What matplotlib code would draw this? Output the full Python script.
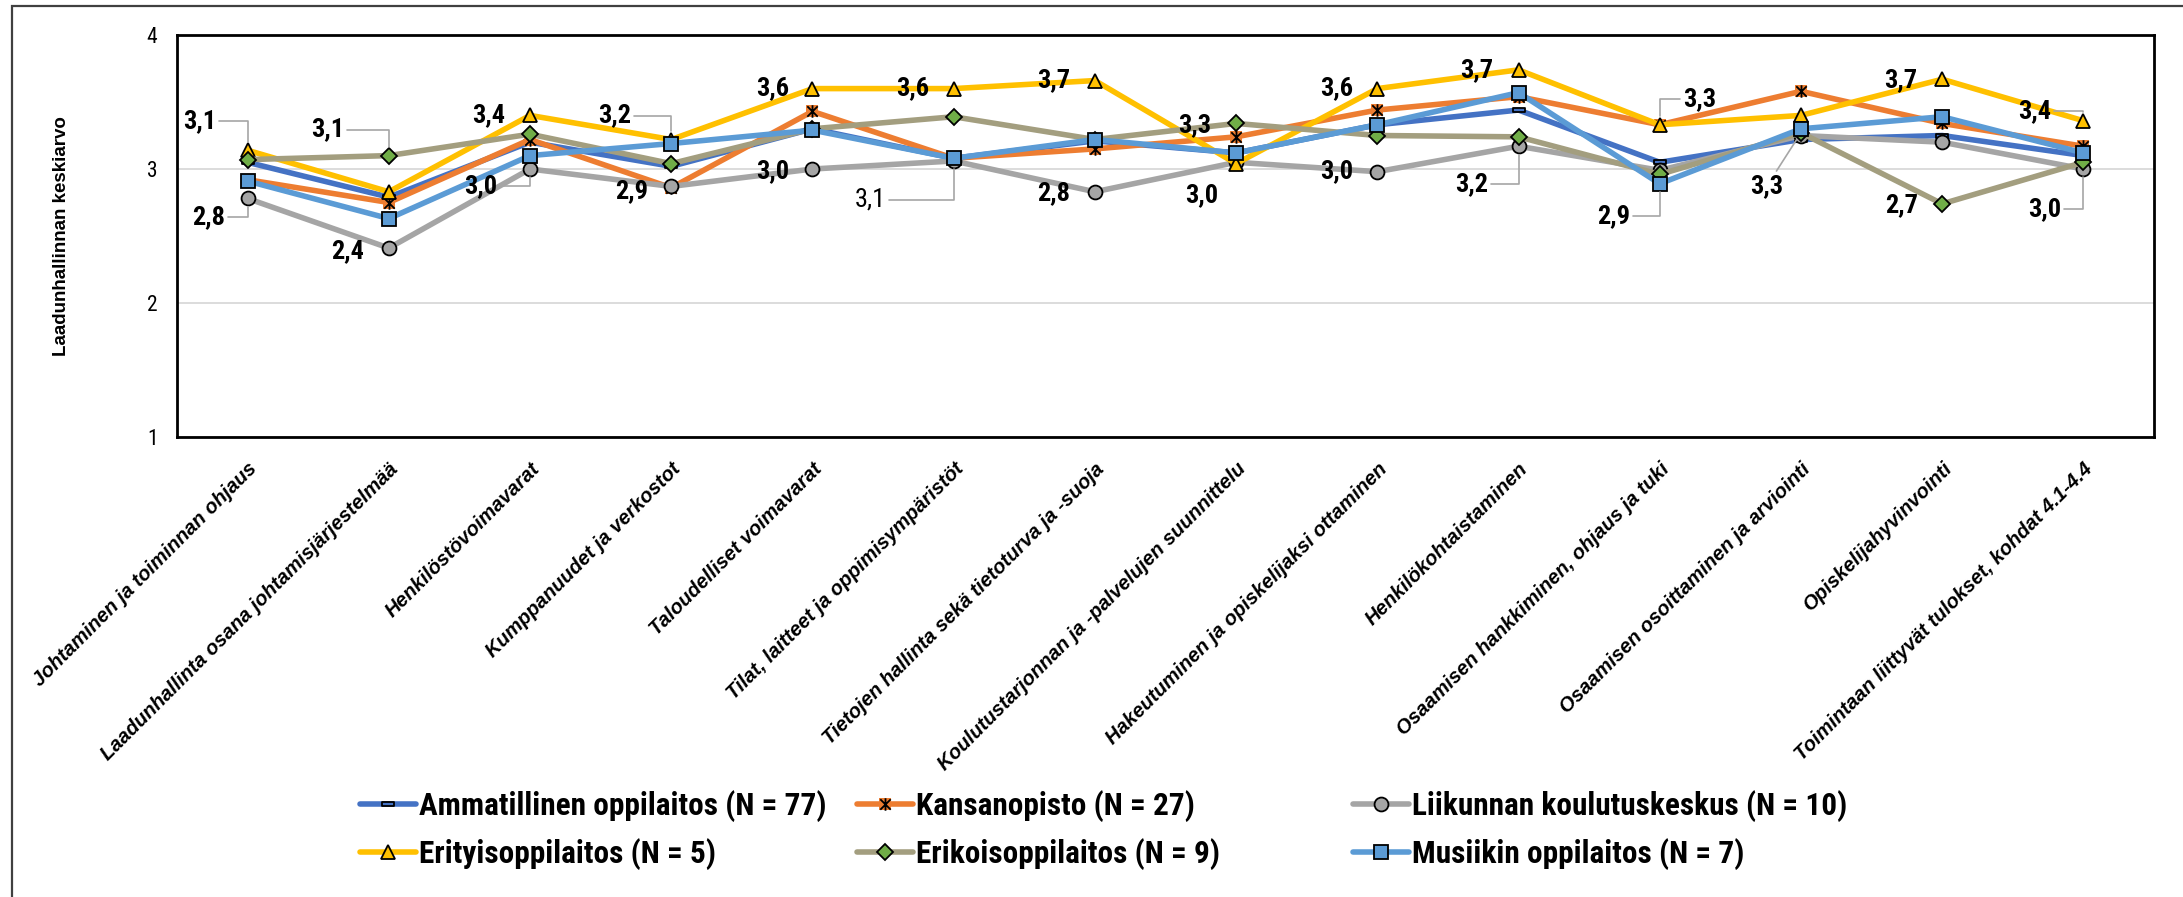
import matplotlib
matplotlib.use('Agg')
import matplotlib.pyplot as plt
import numpy as np
from matplotlib import font_manager
from matplotlib.path import Path
from matplotlib.patches import Rectangle


# DATA
categories = [
    'Johtaminen ja toiminnan ohjaus',
    'Laadunhallinta osana johtamisjärjestelmää',
    'Henkilöstövoimavarat',
    'Kumppanuudet ja verkostot',
    'Taloudelliset voimavarat',
    'Tilat, laitteet ja oppimisympäristöt',
    'Tietojen hallinta sekä tietoturva ja -suoja',
    'Koulutustarjonnan ja -palvelujen suunnittelu',
    'Hakeutuminen ja opiskelijaksi ottaminen',
    'Henkilökohtaistaminen',
    'Osaamisen hankkiminen, ohjaus ja tuki',
    'Osaamisen osoittaminen ja arviointi',
    'Opiskelijahyvinvointi',
    'Toimintaan liittyvät tulokset, kohdat 4.1-4.4',
]
series_names = [
    'Ammatillinen oppilaitos (N = 77)',
    'Kansanopisto (N = 27)',
    'Liikunnan koulutuskeskus (N = 10)',
    'Erityisoppilaitos (N = 5)',
    'Erikoisoppilaitos (N = 9)',
    'Musiikin oppilaitos (N = 7)',
]
ammatillinen = [3.05, 2.79, 3.20, 3.02, 3.30, 3.08, 3.21, 3.12, 3.33, 3.44, 3.05, 3.22, 3.25, 3.10]
kansanopisto = [2.92, 2.75, 3.22, 2.86, 3.43, 3.08, 3.15, 3.24, 3.44, 3.54, 3.33, 3.58, 3.34, 3.17]
liikunta = [2.78, 2.41, 3.00, 2.87, 3.00, 3.06, 2.83, 3.05, 2.98, 3.17, 2.99, 3.25, 3.20, 3.00]
erityis = [3.14, 2.83, 3.40, 3.22, 3.60, 3.60, 3.66, 3.04, 3.60, 3.74, 3.33, 3.40, 3.67, 3.36]
erikois = [3.07, 3.10, 3.26, 3.04, 3.30, 3.39, 3.22, 3.34, 3.25, 3.24, 2.96, 3.27, 2.74, 3.05]
musiikki = [2.91, 2.63, 3.10, 3.19, 3.29, 3.08, 3.22, 3.12, 3.33, 3.57, 2.89, 3.30, 3.39, 3.12]
values = [ammatillinen, kansanopisto, liikunta, erityis, erikois, musiikki]
yticks = [1, 2, 3, 4]

# data labels: (category, series, dx px, dy px, leader connection, weight)
ANG = 'angle,angleA=0,angleB=90,rad=0'
label_spec = [
    (0, 3, -48, 29, ANG, 'bold'),
    (0, 2, -39, -19, ANG, 'bold'),
    (1, 4, -61, 26, ANG, 'bold'),
    (1, 2, -41, -3, None, 'bold'),
    (2, 3, -41, 0, None, 'bold'),
    (2, 2, -49, -17, ANG, 'bold'),
    (3, 3, -57, 24, ANG, 'bold'),
    (3, 2, -40, -5, None, 'bold'),
    (4, 3, -40, 0, None, 'bold'),
    (4, 2, -40, -2, None, 'bold'),
    (5, 3, -41, 0, None, 'bold'),
    (5, 2, -83, -39, ANG, 'normal'),
    (6, 3, -41, 0, None, 'bold'),
    (6, 2, -41, -1, None, 'bold'),
    (7, 4, -41, -2, None, 'bold'),
    (7, 3, -34, -32, None, 'bold'),
    (8, 3, -41, 0, None, 'bold'),
    (8, 2, -41, 0, None, 'bold'),
    (9, 3, -42, 0, None, 'bold'),
    (9, 2, -47, -38, ANG, 'bold'),
    (10, 3, 40, 26, ANG, 'bold'),
    (10, 5, -46, -32, ANG, 'bold'),
    (11, 4, -34, -53, 'arc3', 'bold'),
    (12, 3, -41, -1, None, 'bold'),
    (12, 4, -41, -1, None, 'bold'),
    (13, 3, -49, 10, ANG, 'bold'),
    (13, 2, -39, -40, ANG, 'bold'),
]

# FONTS
installed = {f.name for f in font_manager.fontManager.ttflist}


def pick(*names):
    for n in names:
        if n in installed:
            return n
    return 'DejaVu Sans'


NARROW = pick('Liberation Sans Narrow', 'Arial Narrow', 'Roboto Condensed', 'Liberation Sans')
SANS = pick('Liberation Sans', 'Arial', 'DejaVu Sans')

# MARKERS
bar_marker = Path([(-1, -0.38), (1, -0.38), (1, 0.38), (-1, 0.38), (-1, -0.38)],
                  [Path.MOVETO, Path.LINETO, Path.LINETO, Path.LINETO, Path.CLOSEPOLY])
star_marker = Path([(-1, -1), (1, 1), (-1, 1), (1, -1), (0, -1.2), (0, 1.2)],
                   [Path.MOVETO, Path.LINETO, Path.MOVETO, Path.LINETO, Path.MOVETO, Path.LINETO])

line_colors = ['#4472C4', '#ED7D31', '#A5A5A5', '#FFC000', '#A39E7F', '#5B9BD5']
markers = [bar_marker, 's', 'o', '^', 'D', 's']
marker_fill = ['#4472C4', '#ED7D31', '#A5A5A5', '#FFC000', '#70AD47', '#5B9BD5']
marker_size = [9, 8, 10, 10, 8.5, 9.5]
marker_edge = ['black', 'none', 'black', 'black', 'black', 'black']

W, H = 2183, 897
fig = plt.figure(figsize=(W / 100, H / 100), dpi=100)
ax = fig.add_axes([177 / W, 1 - 437 / H, (2154 - 177) / W, (437 - 35) / H])
x = np.arange(len(categories))

handles = []
for i, vals in enumerate(values):
    ln, = ax.plot(x, vals, color=line_colors[i], lw=4, marker=markers[i],
                  mfc=marker_fill[i], mec=marker_edge[i], mew=1.3, ms=marker_size[i],
                  solid_capstyle='round', zorder=3 + i)
    if i == 1:
        st, = ax.plot(x, vals, ls='none', marker=star_marker, ms=9, mfc='none',
                      mec='black', mew=1.3, zorder=3 + i)
        handles.append((ln, st))
    else:
        handles.append(ln)

# DATA LABELS
for c, s, dx, dy, conn, weight in label_spec:
    v = values[s][c]
    txt = f"{v:.1f}".replace('.', ',')
    arrow = None
    if conn:
        arrow = dict(arrowstyle='-', color='#A6A6A6', lw=1.2, shrinkA=0, shrinkB=6,
                     connectionstyle=conn)
    ax.annotate(txt, xy=(c, v), xytext=(dx, dy), textcoords='offset pixels',
                ha='center', va='center', fontsize=19, fontweight=weight,
                family=NARROW, arrowprops=arrow, zorder=20)

# AXES
ax.set_xlim(-0.5, len(categories) - 0.5)
ax.set_ylim(1, 4)
ax.set_yticks(yticks)
ax.set_yticklabels([str(t) for t in yticks], family=NARROW, fontsize=15.5)
ax.yaxis.grid(True, color='#D9D9D9', lw=1.3)
ax.set_axisbelow(True)
for sp in ax.spines.values():
    sp.set_linewidth(2)
    sp.set_color('black')
ax.tick_params(axis='both', length=0)
ax.tick_params(axis='y', pad=14)
ax.tick_params(axis='x', pad=16)
ax.set_xticks(x)
ax.set_xticklabels(categories, rotation=45, ha='right', va='top', rotation_mode='anchor',
                   fontsize=14.5, fontweight='bold', fontstyle='italic', family=SANS)
ax.set_ylabel('Laadunhallinnan keskiarvo', fontsize=13.5, fontweight='bold', family=SANS)
ax.yaxis.set_label_coords((70 - 177) / (2154 - 177), 0.5)

# LEGEND (three columns)
col_x = [360, 857, 1353]
for k in range(3):
    idx = [k, k + 3]
    fig.legend([handles[j] for j in idx], [series_names[j] for j in idx],
               loc='upper left', bbox_to_anchor=(col_x[k] / W, 1 - 790 / H),
               frameon=False, borderpad=0, borderaxespad=0, handlelength=1.8,
               handletextpad=0.1, labelspacing=0.5,
               prop=dict(family=NARROW, weight='bold', size=22.5))

# outer chart border
fig.add_artist(Rectangle((12 / W, -0.1), 1.2, 1 - 6 / H + 0.1, transform=fig.transFigure,
                         fill=False, ec='#404040', lw=1.6))

fig.savefig('out.png', dpi=100)
